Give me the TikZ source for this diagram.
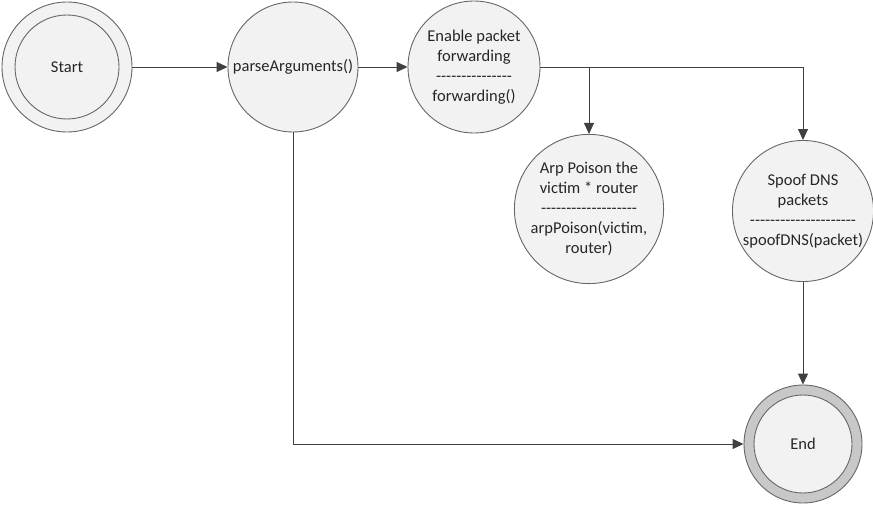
\documentclass[tikz,border=0pt]{standalone}
\usepackage{fontspec}
\setmainfont{Carlito}
\usetikzlibrary{arrows.meta}
\newcommand\dl[1]{\foreach\i in {1,...,#1}{-\kern0pt}}
\definecolor{lineg}{HTML}{404040}
\definecolor{circfill}{HTML}{F2F2F2}
\definecolor{ringfill}{HTML}{C8C8C8}
\begin{document}
\begin{tikzpicture}[x=1pt,y=-1pt,
  state/.style={circle,draw=lineg!80,line width=0.9pt,fill=circfill,minimum size=#1,inner sep=0pt,align=center,
    font=\fontsize{16.5}{20}\selectfont,text=black!85},
  arr/.style={draw=lineg,line width=0.9pt,-{Triangle[length=11pt,width=10pt]}}
]
\useasboundingbox (0,0) rectangle (873,508);
% Start
\node[state=130pt] (start) at (67,67) {};
\node[state=104pt] (startin) at (67,67) {Start};
% parseArguments
\node[state=130pt] (parse) at (293,67) {parseArguments()};
% forwarding
\node[state=132pt] (fwd) at (474,67) {Enable packet\\forwarding\\\dl{15}\\forwarding()};
% arp
\node[state=124pt] (arp) at (589,209) {Arp Poison the\\victim * router\\\dl{19}\\arpPoison(victim,\\router)};
% spoof
\node[state=128pt] (spoof) at (803,211) {Spoof DNS\\packets\\\dl{21}\\spoofDNS(packet)};
% End
\node[state=118pt,fill=ringfill] (end) at (803,444) {};
\node[state=98pt] (endin) at (803,444) {End};
% connectors
\draw[arr] (start) -- (parse);
\draw[arr] (parse) -- (fwd);
\draw[arr] (fwd.east) -| (arp.north);
\draw[arr] (fwd.east) -| (spoof.north);
\draw[arr] (spoof) -- (end);
\draw[arr] (parse.south) |- (end.west);
\end{tikzpicture}
\end{document}
